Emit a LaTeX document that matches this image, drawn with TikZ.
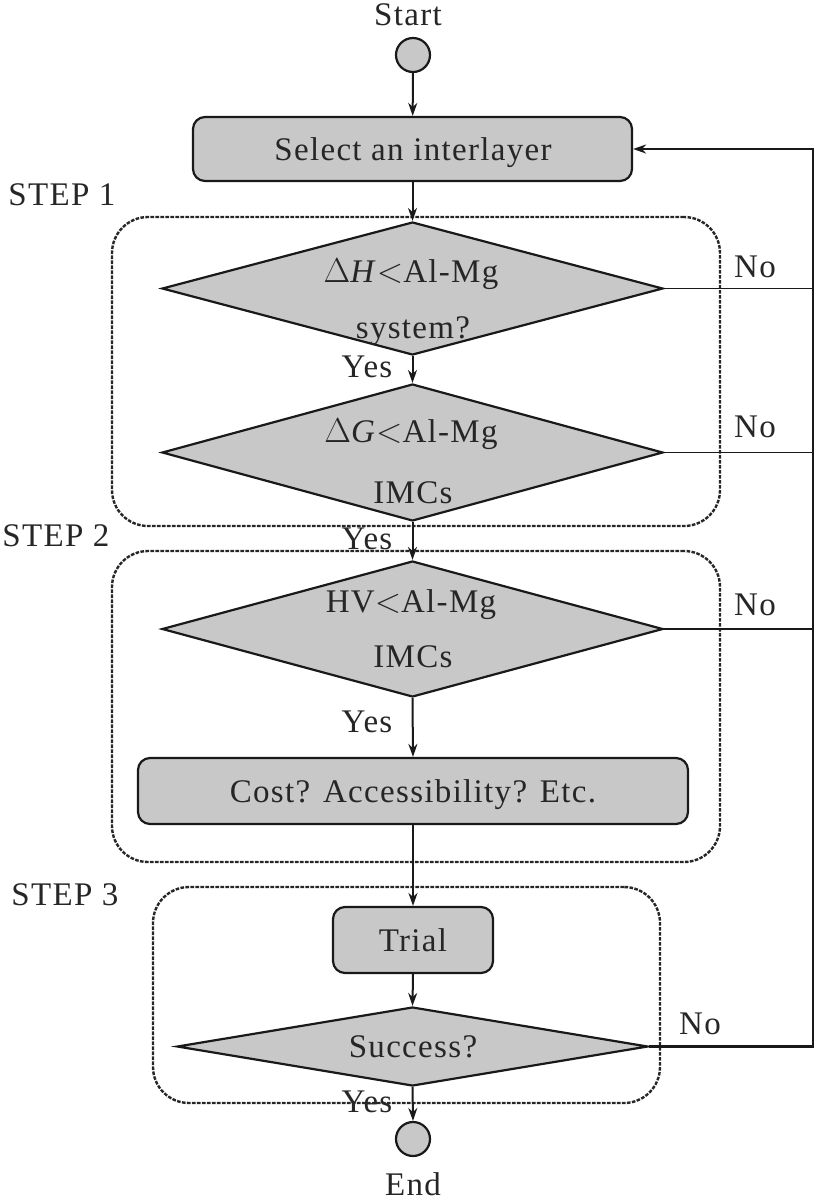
\documentclass[tikz,border=0pt]{standalone}
\usepackage{fontspec}
\setmainfont{Liberation Serif}[LetterSpace=4.0]
\usetikzlibrary{shapes.geometric,arrows.meta}
\definecolor{boxfill}{RGB}{200,200,200}
\begin{document}
\begin{tikzpicture}[x=0.5pt,y=-0.5pt,
  every node/.style={font=\fontsize{16.5}{19}\selectfont},
  lbl/.style={anchor=base,inner sep=0pt,text=black!85},
  outline/.style={draw=black!90,line width=1.1pt,fill=boxfill},
  procbox/.style={outline,rectangle,rounded corners=6pt,inner sep=0pt},
  dia/.style={outline,diamond,inner sep=0pt},
  term/.style={outline,circle,inner sep=0pt,minimum size=17pt},
  stepbox/.style={draw=black!85,line width=1.2pt,dash pattern=on 1.8pt off 0.7pt,rounded corners=18pt,inner sep=0pt},
  conn/.style={draw=black!90,line width=1pt},
  arr/.style={conn,-{Stealth[length=6.5pt,width=4.5pt]}}
]
\useasboundingbox (0,0) rectangle (817,1201);

% dashed step boxes
\node[stepbox,minimum width=304pt,minimum height=154.5pt] (s1) at (416,371.5) {};
\node[stepbox,minimum width=304pt,minimum height=155.5pt] (s2) at (416,706.5) {};
\node[stepbox,minimum width=253.5pt,minimum height=108pt] (s3) at (406.5,995) {};

% shapes
\node[term] (start) at (413,55) {};
\node[procbox,minimum width=219.5pt,minimum height=32pt] (sel) at (412.5,149) {};
\node[dia,minimum width=250.5pt,minimum height=66.5pt] (d1) at (412.5,288.5) {};
\node[dia,minimum width=250.5pt,minimum height=68.5pt] (d2) at (412.5,452.5) {};
\node[dia,minimum width=250.5pt,minimum height=68pt] (d3) at (412.5,629) {};
\node[procbox,minimum width=275pt,minimum height=33pt] (cost) at (413,791) {};
\node[procbox,minimum width=80pt,minimum height=33pt] (trial) at (413,940) {};
\node[dia,minimum width=235.5pt,minimum height=39.5pt] (d4) at (412.5,1046.5) {};
\node[term] (end) at (413,1139) {};

% texts
\node[lbl] (tstart) at (408,25) {Start};
\node[lbl] (tsel) at (413,160) {Select an interlayer};
\node[lbl] (td1a) at (411,282) {$\Delta$\textit{H}$<$Al-Mg};
\node[lbl] (td1b) at (413,338) {system?};
\node[lbl] (td2a) at (411,442) {$\Delta$\textit{G}$<$Al-Mg};
\node[lbl] (td2b) at (413,503) {IMCs};
\node[lbl] (td3a) at (411,612) {HV$<$Al-Mg};
\node[lbl] (td3b) at (413,667) {IMCs};
\node[lbl] (tcost) at (413,802) {Cost? Accessibility? Etc.};
\node[lbl] (ttrial) at (413,951) {Trial};
\node[lbl] (td4) at (413,1057) {Success?};
\node[lbl] (tend) at (413,1195) {End};
\node[lbl,anchor=base west] (st1) at (8,205) {STEP 1};
\node[lbl,anchor=base west] (st2) at (2,546) {STEP 2};
\node[lbl,anchor=base west] (st3) at (11,905) {STEP 3};
\node[lbl] (y1) at (367,377) {Yes};
\node[lbl] (y2) at (367,549) {Yes};
\node[lbl] (y3) at (367,732) {Yes};
\node[lbl] (y4) at (367,1112) {Yes};
\node[lbl] (n1) at (755,277) {No};
\node[lbl] (n2) at (755,437) {No};
\node[lbl] (n3) at (755,615) {No};
\node[lbl] (n4) at (700,1034) {No};

% connectors
\draw[arr] (start) -- (sel);
\draw[arr] (sel) -- (d1.north);
\draw[arr] (d1.south) -- (d2.north);
\draw[arr] (d2.south) -- (d3.north);
\draw[arr] (d3.south) -- (cost.north);
\draw[arr] (cost.south) -- (trial.north);
\draw[arr] (trial.south) -- (d4.north);
\draw[arr] (d4.south) -- (end.north);

\coordinate (fbtop) at (813,149);
\coordinate (fbbot) at (813,1046.5);
\draw[conn,line width=0.9pt] (d1.east) -- (d1.east -| fbtop);
\draw[conn,line width=0.9pt] (d2.east) -- (d2.east -| fbtop);
\draw[conn,line width=0.9pt] (d3.east) -- (d3.east -| fbtop);
\draw[arr,line width=1.2pt,line join=miter] (d4.east) -- (fbbot) -- (fbtop) -- (sel.east);
\end{tikzpicture}
\end{document}
